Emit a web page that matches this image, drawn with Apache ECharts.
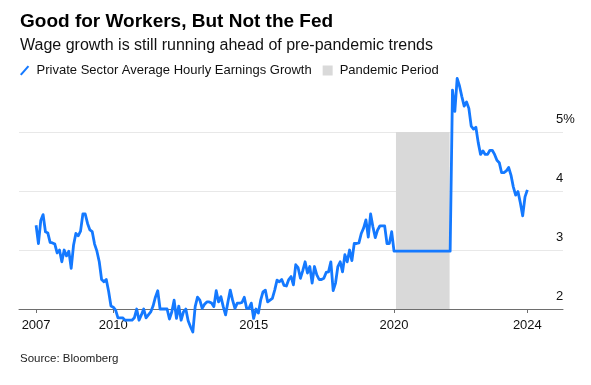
<!DOCTYPE html>
<html>
<head>
<meta charset="utf-8">
<script src="https://cdn.jsdelivr.net/npm/echarts@6/dist/echarts.min.js"></script>
<style>
  html, body { margin: 0; padding: 0; background: #fff; }
  #chart { width: 591px; height: 385px; }
</style>
</head>
<body>
<div id="chart"></div>
<script>
// ---- Data (monthly, first value = Apr 2007) ----
const startYear = 2007.25;
const wages2007 = [3.42, 3.11, 3.50, 3.60, 3.31, 3.29, 3.13, 3.12, 3.10, 2.95, 3.00, 2.80];
const wages2008 = [3.00, 2.90, 2.98, 2.69, 3.08, 3.28, 3.24, 3.32, 3.61, 3.61, 3.45, 3.34];
const wages2009 = [3.31, 3.10, 2.98, 2.80, 2.50, 2.46, 2.50, 2.30, 2.05, 2.03, 1.98, 1.85];
const wages2010 = [1.85, 1.85, 1.81, 1.81, 1.81, 1.81, 1.85, 2.00, 1.81, 1.90, 2.00, 1.85];
const wages2011 = [1.90, 1.95, 2.05, 2.20, 2.31, 2.00, 2.00, 2.00, 2.00, 1.83, 1.95, 2.15];
const wages2012 = [1.84, 2.05, 1.81, 1.95, 2.00, 1.80, 1.70, 1.61, 2.04, 2.20, 2.15, 2.01];
const wages2013 = [2.08, 2.12, 2.12, 2.10, 2.04, 2.31, 2.12, 2.21, 2.04, 1.90, 2.12, 2.32];
const wages2014 = [2.15, 2.01, 2.10, 2.10, 2.11, 2.20, 2.01, 2.01, 2.10, 1.84, 2.00, 1.93];
const wages2015 = [2.15, 2.29, 2.32, 2.12, 2.15, 2.18, 2.32, 2.49, 2.46, 2.50, 2.40, 2.39];
const wages2016 = [2.50, 2.55, 2.41, 2.75, 2.70, 2.52, 2.65, 2.80, 2.61, 2.72, 2.44, 2.72];
const wages2017 = [2.58, 2.50, 2.50, 2.52, 2.62, 2.63, 2.80, 2.31, 2.44, 2.72, 2.80, 2.63];
const wages2018 = [2.92, 2.80, 3.00, 2.82, 3.11, 3.11, 3.12, 3.28, 3.37, 3.51, 3.22, 3.61];
const wages2019 = [3.39, 3.21, 3.34, 3.41, 3.41, 3.41, 3.11, 3.11, 3.31];
const wagesPandemic = [2.98, 2.98, 2.98, 2.98, 2.98, 2.98, 2.98, 2.98, 2.98, 2.98, 2.98, 2.98,
                       2.98, 2.98, 2.98, 2.98, 2.98, 2.98, 2.98, 2.98, 2.98, 2.98, 2.98, 2.98, 2.98];
const wages2022 = [5.71, 5.35, 5.91, 5.78, 5.60, 5.44, 5.51, 5.40, 5.10, 5.05, 5.08, 4.82];
const wages2023 = [4.62, 4.68, 4.62, 4.62, 4.69, 4.69, 4.62, 4.52, 4.48, 4.31, 4.31, 4.34];
const wages2024 = [4.40, 4.27, 4.07, 3.93, 3.99, 3.80, 3.58, 3.90, 4.02];

const pandemicPeriod = [2020.07, 2021.98];

const xTickValues = [2007.25, 2010, 2015, 2020, 2024.75];
const xTickLabels = ['2007', '2010', '2015', '2020', '2024'];
const yTickValues = [2, 3, 4, 5];
const yTickLabels = ['2', '3', '4', '5%'];

const seriesName = 'Private Sector Average Hourly Earnings Growth';
const pandemicName = 'Pandemic Period';

// ---- Build ----
const wages = [].concat(wages2007, wages2008, wages2009, wages2010, wages2011, wages2012,
  wages2013, wages2014, wages2015, wages2016, wages2017, wages2018, wages2019,
  wagesPandemic, wages2022, wages2023, wages2024);
const lineData = wages.map((v, i) => [startYear + i / 12, v]);

const FONT = "'Liberation Sans', Arial, Helvetica, sans-serif";
const BLUE = '#1479ff';
const GREY = '#d9d9d9';

const chart = echarts.init(document.getElementById('chart'), null, { renderer: 'canvas' });
chart.setOption({
  animation: false,
  backgroundColor: '#ffffff',
  textStyle: { fontFamily: FONT },
  title: [
    { text: 'Good for Workers, But Not the Fed', left: 20, top: 12, padding: 0,
      textStyle: { fontFamily: FONT, fontSize: 19, fontWeight: 'bold', color: '#000' } },
    { text: 'Wage growth is still running ahead of pre-pandemic trends', left: 20, top: 38, padding: 0,
      textStyle: { fontFamily: FONT, fontSize: 16, fontWeight: 'normal', color: '#111' } },
    { text: 'Source: Bloomberg', left: 20, top: 353, padding: 0,
      textStyle: { fontFamily: FONT, fontSize: 11.5, fontWeight: 'normal', color: '#222' } }
  ],
  legend: {
    left: 20, top: 64, padding: 0,
    itemWidth: 10, itemHeight: 10, itemGap: 11,
    selectedMode: false,
    textStyle: { fontFamily: FONT, fontSize: 13, color: '#111', padding: [0, 0, 0, 2] },
    data: [
      { name: seriesName, icon: 'path://M0,9 L8,0 L9.6,1.4 L1.6,10.4 Z', itemStyle: { color: BLUE } },
      { name: pandemicName, icon: 'rect', itemStyle: { color: GREY } }
    ]
  },
  grid: { left: 19, right: 28, top: 132, bottom: 76 },
  xAxis: {
    type: 'value',
    min: 2006.641, max: 2026.02,
    axisLine: { show: true, lineStyle: { color: '#6e6e6e', width: 1 } },
    axisTick: { show: true, length: 4, lineStyle: { color: '#6e6e6e' }, customValues: xTickValues },
    axisLabel: {
      customValues: xTickValues,
      margin: 10, fontSize: 13, color: '#111', fontFamily: FONT,
      formatter: v => {
        const k = xTickValues.findIndex(t => Math.abs(t - v) < 1e-6);
        return k >= 0 ? xTickLabels[k] : '';
      }
    },
    splitLine: { show: false }
  },
  yAxis: {
    type: 'value',
    position: 'right',
    min: 2, max: 5, interval: 1,
    axisLine: { show: false },
    axisTick: { show: false },
    axisLabel: {
      margin: -7, fontSize: 13, color: '#111', fontFamily: FONT,
      align: 'left', verticalAlign: 'bottom', padding: [0, 0, 6, 0],
      formatter: v => {
        const k = yTickValues.indexOf(v);
        return k >= 0 ? yTickLabels[k] : '';
      }
    },
    splitLine: { show: true, lineStyle: { color: '#e8e8e8', width: 1 } }
  },
  series: [
    {
      name: seriesName,
      type: 'line',
      data: lineData,
      showSymbol: false,
      clip: false,
      z: 3,
      color: BLUE,
      lineStyle: { color: BLUE, width: 2.8, join: 'round' },
      markArea: {
        silent: true,
        z: 1,
        itemStyle: { color: GREY },
        data: [[{ xAxis: pandemicPeriod[0] }, { xAxis: pandemicPeriod[1] }]]
      }
    },
    {
      name: pandemicName,
      type: 'line',
      data: [],
      color: GREY
    }
  ]
});
</script>
</body>
</html>
